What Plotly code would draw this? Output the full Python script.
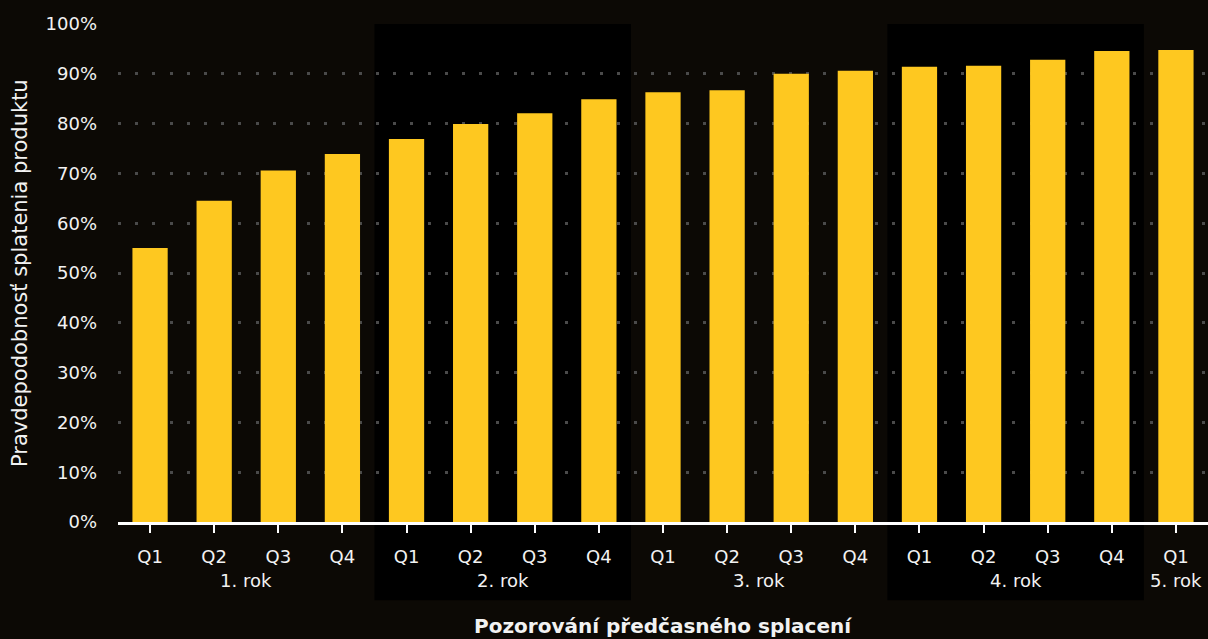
import plotly.graph_objects as go

# ---- data ----
years = ["1. rok"] * 4 + ["2. rok"] * 4 + ["3. rok"] * 4 + ["4. rok"] * 4 + ["5. rok"]
quarters = ["Q1", "Q2", "Q3", "Q4"] * 4 + ["Q1"]
values = [55.0, 64.5, 70.6, 73.9, 76.9, 79.9, 82.1, 84.9,
          86.3, 86.7, 90.0, 90.6, 91.4, 91.6, 92.8, 94.6, 94.8]
y_ticks = list(range(0, 101, 10))
y_tick_labels = [f"{v}%" for v in y_ticks]
shaded_years = ["2. rok", "4. rok"]

FONT = "DejaVu Sans"
TXT = "#f2f2f2"
BG = "#0c0905"

positions = list(range(len(values)))

fig = go.Figure()
fig.add_trace(go.Bar(
    x=positions,
    y=values,
    customdata=[f"{q} {y}" for q, y in zip(quarters, years)],
    hovertemplate="%{customdata}: %{y:.1f}%<extra></extra>",
    marker=dict(color="#fec820", line=dict(width=0)),
))

# year groups
year_order = []
for y in years:
    if y not in year_order:
        year_order.append(y)

shapes = []
annotations = []
for yr in year_order:
    idx = [i for i, v in enumerate(years) if v == yr]
    annotations.append(dict(
        text=yr, xref="x", yref="paper",
        x=sum(idx) / len(idx), y=(522 - 580) / 498,
        xanchor="center", yanchor="middle", showarrow=False,
        font=dict(family=FONT, size=18, color=TXT),
    ))
    if yr in shaded_years:
        shapes.append(dict(
            type="rect", xref="x", yref="paper",
            x0=min(idx) - 0.5, x1=max(idx) + 0.5,
            y0=-0.157, y1=1.0,
            fillcolor="#000000", line=dict(width=0), layer="below",
        ))

annotations += [
    dict(text="Pozorování předčasného splacení", xref="paper", yref="paper",
         x=0.5, y=(522 - 626) / 498, xanchor="center", yanchor="middle",
         showarrow=False, font=dict(family=FONT, size=20, color=TXT, weight="bold")),
    dict(text="Pravdepodobnosť splatenia produktu", xref="paper", yref="paper",
         x=(20 - 118) / 1090, y=0.5, xanchor="center", yanchor="middle",
         textangle=-90, showarrow=False,
         font=dict(family=FONT, size=21, color=TXT)),
]

fig.update_layout(
    width=1208, height=639,
    margin=dict(l=118, r=0, t=24, b=117),
    paper_bgcolor=BG,
    plot_bgcolor="rgba(0,0,0,0)",
    bargap=0.45,
    showlegend=False,
    font=dict(family=FONT, color=TXT, size=18),
    shapes=shapes,
    annotations=annotations,
    xaxis=dict(
        range=[-0.5, len(values) - 0.5],
        tickmode="array",
        tickvals=positions,
        ticktext=quarters,
        showgrid=False,
        zeroline=False,
        showline=True, linecolor="#ffffff", linewidth=3,
        ticks="outside", ticklen=8, tickwidth=2, tickcolor="#ffffff",
        ticklabelstandoff=8,
        tickfont=dict(family=FONT, color=TXT, size=18),
        fixedrange=True,
    ),
    yaxis=dict(
        range=[0, 100],
        tickmode="array",
        tickvals=y_ticks,
        ticktext=y_tick_labels,
        showgrid=True, gridcolor="#4a4a4a", gridwidth=3,
        griddash="3px,14.2px",
        zeroline=False,
        showline=False,
        ticks="",
        ticklabelstandoff=20,
        tickfont=dict(family=FONT, color=TXT, size=18),
        fixedrange=True,
    ),
)

fig.write_html("out.html", config={"displayModeBar": False},
               post_script="document.body.style.margin='0px';")
